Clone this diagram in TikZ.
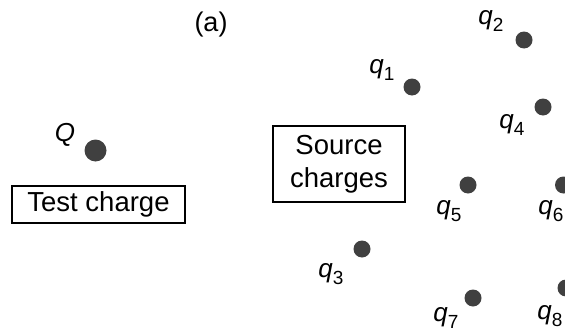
\documentclass[tikz,border=0pt]{standalone}
\usepackage{fontspec}
\setmainfont{Liberation Sans}
\definecolor{dotgray}{HTML}{404040}
\newcommand\qlab[1]{\textit{q}\raisebox{-0.28em}{\fontsize{19}{19}\selectfont #1}}
\begin{document}
\begin{tikzpicture}[x=1pt,y=-1pt,
  charge/.style={circle, fill=dotgray, inner sep=0pt, minimum size=17pt},
  bigcharge/.style={circle, fill=dotgray, inner sep=0pt, minimum size=22pt},
  lbl/.style={inner sep=0pt, font=\fontsize{26}{26}\selectfont},
  txtbox/.style={draw, line width=1.1pt, inner sep=0pt, align=center, font=\fontsize{27.5}{33}\selectfont}]
\useasboundingbox (0,0) rectangle (565,332);
\clip (0,0) rectangle (565,332);
\node[lbl, font=\fontsize{27}{27}\selectfont] (a) at (211,25) {(a)};
% test charge
\node[bigcharge] (Q) at (95.5,150.5) {};
\node[lbl] (Qlab) at (65,135) {\textit{Q}};
\node[txtbox, minimum width=173pt, minimum height=37pt] (test) at (98.5,204.5) {Test charge};
\node[txtbox, minimum width=132pt, minimum height=76pt] (source) at (339,164) {Source\\charges};
% source charges
\node[charge] (q1) at (412,87) {};
\node[charge] (q2) at (524,40) {};
\node[charge] (q3) at (362,249) {};
\node[charge] (q4) at (543,107) {};
\node[charge] (q5) at (468,185) {};
\node[charge] (q6) at (563.5,185) {};
\node[charge] (q7) at (473,298) {};
\node[charge] (q8) at (566,288) {};
\node[lbl] (l1) at (382,70) {\qlab{1}};
\node[lbl] (l2) at (491,21) {\qlab{2}};
\node[lbl] (l3) at (331,274) {\qlab{3}};
\node[lbl] (l4) at (512,125) {\qlab{4}};
\node[lbl] (l5) at (449,211) {\qlab{5}};
\node[lbl] (l6) at (551,211) {\qlab{6}};
\node[lbl] (l7) at (446,318) {\qlab{7}};
\node[lbl] (l8) at (550,316) {\qlab{8}};
\end{tikzpicture}
\end{document}
